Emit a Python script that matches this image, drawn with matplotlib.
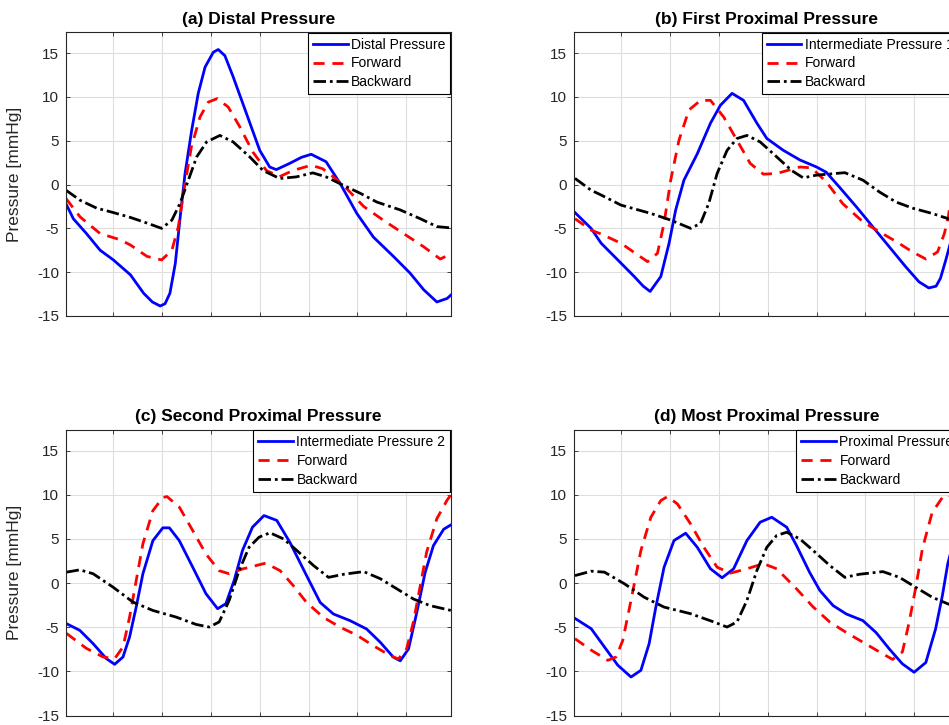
import matplotlib
matplotlib.use('Agg')
import matplotlib.pyplot as plt
import numpy as np

plt.rcParams['font.family'] = ['Liberation Sans', 'DejaVu Sans']
plt.rcParams['axes.unicode_minus'] = False

# time [s] and pressure [mmHg], one list per curve
a_dist_t = [0.003, 0.018, 0.045, 0.073, 0.1, 0.135, 0.162, 0.18, 0.196, 0.206, 0.216, 0.227, 0.237, 0.247, 0.2606,
            0.274, 0.288, 0.305, 0.315, 0.3286, 0.3455, 0.3728, 0.4, 0.4204, 0.434, 0.461, 0.4855, 0.5055, 0.536,
            0.565, 0.599, 0.633, 0.674, 0.708, 0.736, 0.763, 0.784, 0.792]
a_dist_p = [-2.2, -3.9, -5.6, -7.5, -8.6, -10.3, -12.4, -13.4, -13.86, -13.6, -12.4, -9.0, -3.7, 1.26, 6.2,
            10.4, 13.4, 15.1, 15.4, 14.7, 12.3, 8.1, 3.9, 2.0, 1.7, 2.4, 3.1, 3.45, 2.6,
            0.1, -3.3, -6.0, -8.2, -10.1, -12.0, -13.4, -13.0, -12.6]
a_fwd_t = [0.003, 0.032, 0.073, 0.114, 0.135, 0.169, 0.199, 0.22, 0.2333, 0.247, 0.26, 0.2776, 0.2945, 0.3129,
           0.3353, 0.359, 0.386, 0.4137, 0.4408, 0.468, 0.5055, 0.529, 0.548, 0.572, 0.613, 0.654, 0.695, 0.736,
           0.77, 0.792]
a_fwd_p = [-1.6, -3.7, -5.6, -6.3, -6.9, -8.2, -8.6, -7.5, -4.8, 0.1, 4.3, 7.7, 9.4, 9.8,
           8.85, 6.6, 3.7, 1.6, 0.9, 1.6, 2.2, 1.8, 1.0, -0.1, -2.5, -4.1, -5.6, -7.1,
           -8.5, -7.9]
a_bwd_t = [0.003, 0.032, 0.066, 0.1, 0.1347, 0.169, 0.199, 0.22, 0.2367, 0.2537, 0.2708, 0.2912, 0.3184, 0.3455,
           0.3796, 0.4067, 0.4408, 0.4749, 0.5088, 0.536, 0.572, 0.606, 0.64, 0.688, 0.729, 0.763, 0.792]
a_bwd_p = [-0.65, -1.8, -2.7, -3.2, -3.75, -4.4, -5.0, -4.06, -2.15, 0.5, 3.15, 4.86, 5.6, 4.86,
           3.15, 1.6, 0.69, 0.87, 1.33, 0.87, -0.1, -1.0, -2.0, -2.9, -3.9, -4.8, -4.95]

b_int_t = [0.005, 0.038, 0.0587, 0.0927, 0.1265, 0.145, 0.159, 0.1809, 0.1978, 0.2114, 0.2283, 0.2556, 0.2827,
           0.303, 0.3269, 0.3505, 0.3778, 0.3982, 0.432, 0.466, 0.5, 0.52, 0.547, 0.581, 0.615, 0.649, 0.683,
           0.71, 0.73, 0.745, 0.754, 0.765, 0.78, 0.792]
b_int_p = [-3.2, -5.0, -6.7, -8.6, -10.5, -11.6, -12.2, -10.5, -6.7, -2.9, 0.5, 3.5, 7.0,
           9.04, 10.4, 9.6, 7.0, 5.25, 3.9, 2.8, 2.0, 1.4, -0.3, -2.5, -4.8, -7.1, -9.4,
           -11.1, -11.8, -11.6, -10.7, -8.6, -5.5, -2.8]
b_fwd_t = [0.005, 0.038, 0.0587, 0.0994, 0.13, 0.1538, 0.174, 0.1876, 0.2012, 0.2181, 0.2385, 0.2623, 0.2827,
           0.3098, 0.337, 0.3642, 0.3912, 0.4185, 0.466, 0.49, 0.52, 0.554, 0.595, 0.629, 0.663, 0.697, 0.724,
           0.748, 0.762, 0.77, 0.78, 0.792]
b_fwd_p = [-3.9, -5.2, -5.65, -6.7, -7.9, -8.8, -7.85, -4.4, 0.5, 5.05, 8.5, 9.6, 9.6,
           7.7, 5.05, 2.4, 1.18, 1.26, 2.0, 1.9, 0.3, -2.2, -4.25, -5.4, -6.5, -7.7, -8.5,
           -7.7, -5.6, -3.7, 0.0, 3.5]
b_bwd_t = [0.005, 0.038, 0.0587, 0.0994, 0.1605, 0.2012, 0.242, 0.2623, 0.2792, 0.2963, 0.3167, 0.337, 0.3574,
           0.3845, 0.4185, 0.449, 0.4727, 0.5, 0.558, 0.595, 0.629, 0.663, 0.697, 0.737, 0.77, 0.792]
b_bwd_p = [0.7, -0.65, -1.2, -2.35, -3.3, -4.06, -5.0, -4.44, -2.15, 1.26, 3.9, 5.25, 5.6,
           4.86, 3.15, 1.6, 0.76, 1.07, 1.35, 0.5, -0.85, -2.0, -2.7, -3.3, -3.9, -4.2]

c_int_t = [0.0041, 0.0312, 0.0586, 0.0857, 0.1027, 0.1198, 0.1333, 0.1469, 0.1606, 0.181, 0.2014, 0.2149, 0.2353,
           0.2627, 0.2898, 0.3137, 0.3306, 0.3476, 0.3647, 0.3851, 0.4088, 0.435, 0.462, 0.496, 0.524, 0.551,
           0.585, 0.619, 0.647, 0.674, 0.688, 0.705, 0.722, 0.739, 0.756, 0.777, 0.792]
c_int_p = [-4.6, -5.35, -6.86, -8.56, -9.2, -8.37, -6.1, -2.7, 1.06, 4.8, 6.26, 6.26, 4.8,
           1.8, -1.2, -2.9, -2.34, 0.3, 3.7, 6.33, 7.65, 7.1, 4.6, 0.85, -2.2, -3.5,
           -4.25, -5.2, -6.7, -8.4, -8.8, -7.45, -3.3, 1.2, 4.25, 6.1, 6.6]
c_fwd_t = [0.004, 0.0449, 0.079, 0.1027, 0.1198, 0.1333, 0.1469, 0.1606, 0.181, 0.2014, 0.21, 0.2353, 0.2627,
           0.2898, 0.3169, 0.3374, 0.3647, 0.4122, 0.442, 0.469, 0.496, 0.531, 0.565, 0.599, 0.633, 0.667,
           0.684, 0.701, 0.715, 0.729, 0.742, 0.763, 0.784, 0.792]
c_fwd_p = [-5.7, -7.4, -8.37, -8.56, -7.24, -3.85, 0.3, 4.45, 8.2, 9.7, 9.8, 8.6, 5.95,
           3.3, 1.4, 1.06, 1.6, 2.26, 1.4, -0.3, -2.2, -3.9, -5.0, -5.9, -7.1, -8.2,
           -8.6, -7.45, -4.4, -0.3, 3.5, 7.3, 9.4, 10.0]
c_bwd_t = [0.004, 0.0312, 0.0586, 0.0994, 0.1402, 0.181, 0.2286, 0.2694, 0.2966, 0.3169, 0.3374, 0.3578, 0.3782,
           0.3986, 0.421, 0.449, 0.476, 0.51, 0.541, 0.572, 0.613, 0.647, 0.681, 0.715, 0.749, 0.792]
c_bwd_p = [1.24, 1.5, 1.06, -0.46, -2.15, -3.1, -3.85, -4.68, -4.98, -4.4, -1.96, 1.43, 4.06,
           5.2, 5.7, 5.0, 3.7, 2.0, 0.65, 1.0, 1.3, 0.5, -0.65, -1.8, -2.55, -3.1]

d_prox_t = [0.005, 0.0383, 0.0654, 0.0927, 0.1198, 0.1401, 0.157, 0.1707, 0.1876, 0.2079, 0.2318, 0.2556, 0.2827,
            0.3065, 0.3301, 0.3574, 0.3845, 0.4083, 0.4389, 0.459, 0.486, 0.507, 0.534, 0.561, 0.595, 0.622,
            0.649, 0.676, 0.7, 0.724, 0.744, 0.758, 0.769, 0.78, 0.792]
d_prox_p = [-4.0, -5.17, -7.24, -9.3, -10.64, -9.88, -6.86, -2.72, 1.8, 4.82, 5.65, 4.06, 1.62,
            0.6, 1.62, 4.82, 6.9, 7.46, 6.33, 4.25, 1.2, -0.85, -2.55, -3.5, -4.25, -5.6,
            -7.45, -9.15, -10.1, -9.0, -5.2, -1.4, 2.2, 4.5, 5.8]
d_fwd_t = [0.005, 0.0383, 0.0723, 0.0892, 0.1029, 0.1198, 0.1401, 0.1605, 0.1809, 0.1945, 0.2149, 0.242, 0.2691,
           0.2963, 0.3234, 0.3574, 0.3912, 0.4185, 0.4421, 0.459, 0.493, 0.527, 0.561, 0.595, 0.629, 0.656,
           0.676, 0.69, 0.704, 0.717, 0.737, 0.758, 0.769, 0.78, 0.792]
d_fwd_p = [-6.3, -7.6, -8.75, -8.37, -6.5, -1.96, 3.7, 7.46, 9.35, 9.8, 8.97, 6.7, 4.06,
           1.8, 1.13, 1.62, 2.2, 1.62, 0.3, -0.65, -2.7, -4.4, -5.6, -6.7, -7.8, -8.65,
           -7.8, -4.4, -0.3, 3.9, 8.0, 9.7, 10.0, 9.7, 9.0]
d_bwd_t = [0.005, 0.0383, 0.0654, 0.1061, 0.1468, 0.1876, 0.242, 0.2894, 0.3167, 0.3371, 0.3574, 0.3778, 0.3982,
           0.4185, 0.4389, 0.466, 0.493, 0.527, 0.558, 0.588, 0.636, 0.67, 0.704, 0.737, 0.769, 0.792]
d_bwd_p = [0.85, 1.35, 1.24, -0.07, -1.6, -2.72, -3.47, -4.4, -4.98, -4.4, -1.96, 1.43, 4.06,
           5.4, 5.76, 5.0, 3.7, 2.0, 0.65, 1.0, 1.3, 0.65, -0.5, -1.6, -2.35, -2.8]

titles = ['(a) Distal Pressure', '(b) First Proximal Pressure',
          '(c) Second Proximal Pressure', '(d) Most Proximal Pressure']
main_labels = ['Distal Pressure', 'Intermediate Pressure 1', 'Intermediate Pressure 2', 'Proximal Pressure']

panels = [
    (a_dist_t, a_dist_p, a_fwd_t, a_fwd_p, a_bwd_t, a_bwd_p),
    (b_int_t, b_int_p, b_fwd_t, b_fwd_p, b_bwd_t, b_bwd_p),
    (c_int_t, c_int_p, c_fwd_t, c_fwd_p, c_bwd_t, c_bwd_p),
    (d_prox_t, d_prox_p, d_fwd_t, d_fwd_p, d_bwd_t, d_bwd_p),
]

# axes boxes in pixels (left, top, right, bottom); right column runs past the figure edge
W, H = 949, 725
boxes = [(66, 32, 451, 316), (574, 32, 959, 316),
         (66, 429.5, 451, 715.5), (574, 429.5, 959, 715.5)]

fig = plt.figure(figsize=(W / 100, H / 100), dpi=100)
edge = '#262626'

for i, (box, data) in enumerate(zip(boxes, panels)):
    l, t, r, b = box
    ax = fig.add_axes([l / W, 1 - b / H, (r - l) / W, (b - t) / H])
    mt, mp, ft, fp, bt, bp = data
    ax.plot(mt, mp, color='blue', lw=2.0, solid_joinstyle='round', label=main_labels[i])
    ax.plot(ft, fp, color='red', lw=2.0, dashes=(4, 2.8), label='Forward')
    ax.plot(bt, bp, color='black', lw=2.0, dashes=(4.5, 1.4, 1.0, 1.4), label='Backward')

    ax.set_xlim(0.003, 0.792)
    ax.set_ylim(-15, 17.4)
    ax.set_xticks(np.arange(0.1, 0.75, 0.1))
    ax.set_yticks([-15, -10, -5, 0, 5, 10, 15])
    ax.grid(True, color='#dedede', lw=0.8)
    ax.set_axisbelow(True)
    ax.tick_params(direction='in', top=True, right=True, length=3, width=0.6, color=edge,
                   labelbottom=False, labelsize=11, labelcolor=edge, pad=5)
    for s in ax.spines.values():
        s.set_color(edge)
        s.set_linewidth(0.8)
    ax.set_title(titles[i], fontsize=12.5, fontweight='bold', pad=6)
    if i % 2 == 0:
        ax.set_ylabel('Pressure [mmHg]', fontsize=12.5, color=edge)
        ax.yaxis.set_label_coords(-0.114, 0.5)

    leg = ax.legend(loc='upper right', fontsize=10, frameon=True, fancybox=False, framealpha=1,
                    borderaxespad=0.05, borderpad=0.35, labelspacing=0.35, handlelength=2.5,
                    handletextpad=0.25)
    leg.get_frame().set_edgecolor('black')
    leg.get_frame().set_linewidth(0.8)

plt.savefig('out.png', dpi=100)
